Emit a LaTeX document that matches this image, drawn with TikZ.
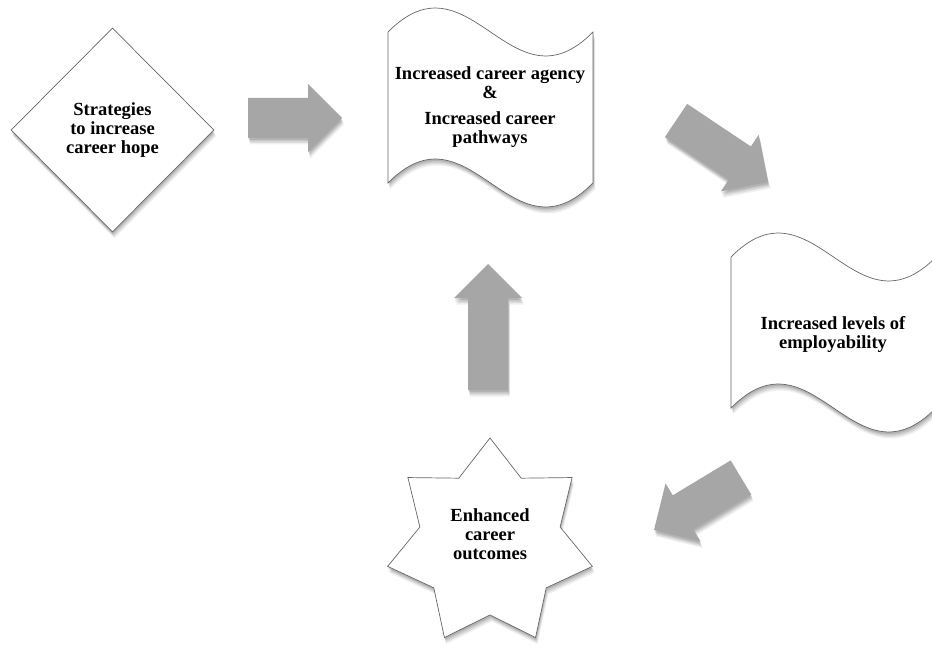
\documentclass[tikz,border=0pt]{standalone}
\usepackage{fontspec}
\setmainfont{Liberation Serif}
\usetikzlibrary{shapes.geometric,calc,shadows}
\definecolor{arrowgray}{HTML}{A6A6A6}
\definecolor{edgegray}{HTML}{666666}
\tikzset{
  softshadow/.style={
    drop shadow={fill=black,opacity=.10,shadow xshift=0.5pt,shadow yshift=-2pt},
    drop shadow={fill=black,opacity=.09,shadow xshift=1pt,shadow yshift=-3.5pt},
    drop shadow={fill=black,opacity=.08,shadow xshift=1.5pt,shadow yshift=-5pt},
    drop shadow={fill=black,opacity=.06,shadow xshift=2pt,shadow yshift=-6.5pt}},
  shapebox/.style={draw=edgegray,line width=0.7pt,fill=white,softshadow},
  lbl/.style={font=\bfseries\fontsize{18.5}{19}\selectfont,align=center,inner sep=0pt},
  arrowbody/.style={fill=arrowgray,softshadow}
}
\newcommand{\blockarrow}[2]{%
  \path ($(#2)!34pt!(#1)$) coordinate (hb);
  \path[arrowbody] ($(#1)!20pt!90:(#2)$) -- ($(hb)!20pt!90:(#2)$) -- ($(hb)!34pt!90:(#2)$)
     -- (#2) -- ($(hb)!34pt!-90:(#2)$) -- ($(hb)!20pt!-90:(#2)$) -- ($(#1)!20pt!-90:(#2)$) -- cycle;}
\newcommand{\wavepath}[2]{% #1 left x, #2 top y
  \path[shapebox] (#1,#2) .. controls ($(#1,#2)+(82,-83)$) and ($(#1,#2)+(123,83)$) .. ($(#1,#2)+(205,0)$)
    -- ($(#1,#2)+(205,151)$) .. controls ($(#1,#2)+(123,234)$) and ($(#1,#2)+(82,68)$) .. ($(#1,#2)+(0,151)$) -- cycle;}
\begin{document}
\begin{tikzpicture}[x=1pt,y=-1pt]
\useasboundingbox[fill=white] (0,0) rectangle (932,650);

% diamond
\node[diamond,shapebox,minimum width=203pt,minimum height=204pt,inner sep=0pt,lbl] (strat) at (112.5,130)
  {Strategies\\to increase\\career hope};

% wave shapes
\wavepath{388}{32}
\node[lbl] (agency) at (490,107) {Increased career agency\\\&\\[7pt]Increased career\\pathways};
\wavepath{731}{257}
\node[lbl] (employ) at (833,334) {Increased levels of\\employability};

% star
\node[star,star points=7,star point ratio=1.46,minimum size=210pt,inner sep=0pt,shapebox] (outcome) at (490,543) {};
\node[lbl] (outcometext) at (490,534) {Enhanced\\career\\outcomes};

% block arrows
\coordinate (a1t) at (248,118); \coordinate (a1h) at (342,118);
\coordinate (a2t) at (676,120.5); \coordinate (a2h) at (768,182);
\coordinate (a3t) at (741,477.5); \coordinate (a3h) at (654,530);
\coordinate (a4t) at (488,390); \coordinate (a4h) at (488,264);
\blockarrow{a1t}{a1h}
\blockarrow{a2t}{a2h}
\blockarrow{a3t}{a3h}
\blockarrow{a4t}{a4h}
\end{tikzpicture}
\end{document}
